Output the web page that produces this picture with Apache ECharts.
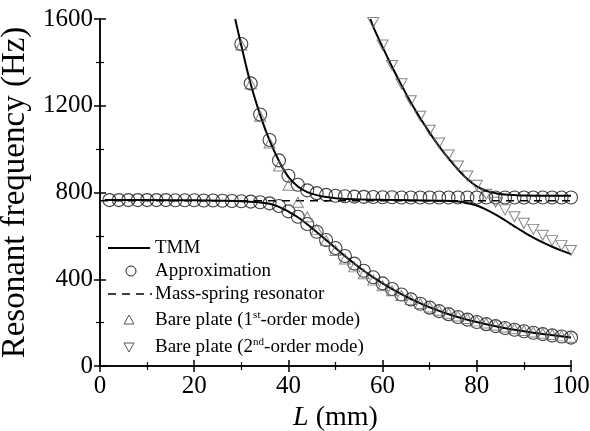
<!DOCTYPE html>
<html><head><meta charset="utf-8">
<script src="https://cdn.jsdelivr.net/npm/echarts@6/dist/echarts.min.js"></script>
<style>html,body{margin:0;padding:0;background:#fff}#c{width:590px;height:431px}</style>
</head><body><div id="c"></div>
<script>
// ---- data (L in mm, frequency in Hz) ----
const lowerApproxL = [2,4,6,8,10,12,14,16,18,20,22,24,26,28,30,32,34,36,38,40,42,44,46,48,50,52,54,56,58,60,62,64,66,68,70,72,74,76,78,80,82,84,86,88,90,92,94,96,98,100];
const lowerApproxF = [765,765,765,765,765,765,765,764,764,764,763,763,762,761,760,758,755,750,738,713,688,655,619,581,544,507,472,439,409,381,355,330,307,287,269,253,239,226,214,203,193,184,175,167,160,153,147,141,136,131];
const upperApproxL = [30,32,34,36,38,40,42,44,46,48,50,52,54,56,58,60,62,64,66,68,70,72,74,76,78,80,82,84,86,88,90,92,94,96,98,100];
const upperApproxF = [1485,1303,1160,1042,948,877,836,810,797,789,785,783,781,780,779,778,778,777,777,777,777,777,777,777,777,777,777,777,777,777,777,777,777,777,777,777];
const plate1L = [30,32,34,36,38,40,42,44,46,48,50,52,54,56,58,60,62,64,66,68,70,72,74,76,78,80,82,84,86,88,90,92,94,96,98,100];
const plate1F = [1480,1301,1152,1028,922,833,755,688,630,578,533,493,457,425,396,370,347,325,306,288,272,257,243,231,219,208,198,189,180,172,164,157,151,145,139,133];
const plate2L = [58,60,62,64,66,68,70,72,74,76,78,80,82,84,86,88,90,92,94,96,98,100];
const plate2F = [1584,1480,1386,1301,1223,1152,1087,1028,973,922,876,833,792,755,720,688,658,630,603,578,555,533];
const tmmAL = [1,10,20,26,30,33,36,38,40,42,44,46,48,50,52,54,56,58,60,63,66,70,75,80,85,90,95,100];
const tmmAF = [765,765,764,762,760,756,748,734,712,686,654,618,581,544,507,472,439,409,381,343,309,270,232,203,179,160,145,131];
const tmmBL = [28.7,30,32,34,36,38,40,42,44,46,48,50,54,60,66,72,76,78,80,82,84,86,88,90,92,94,96,98,100];
const tmmBF = [1600,1478,1300,1158,1040,945,872,828,802,788,779,774,769,766,764,762,759,752,740,721,698,672,644,617,592,570,550,532,516];
const tmmCL = [57.4,58,60,62,64,66,68,70,72,74,76,78,80,82,84,86,88,90,95,100];
const tmmCF = [1600,1565,1470,1380,1295,1215,1142,1075,1013,957,906,862,828,808,797,791,788,786,785,785];
const resonatorL = [0,100];
const resonatorF = [762,762];
const xTickLabels = [0,20,40,60,80,100];
const yTickLabels = [0,400,800,1200,1600];

const zip = (a,b) => a.map((v,i)=>[v,b[i]]);
const SERIF = '"Liberation Serif", "DejaVu Serif", serif';
const chart = echarts.init(document.getElementById('c'), null, {renderer:'canvas'});

const baseAxisLine = {show:true, lineStyle:{color:'#000', width:1.5}};
function xAx(pos, labels){
  return {type:'value', position:pos, min:xTickLabels[0], max:xTickLabels[xTickLabels.length-1],
    interval:xTickLabels[1]-xTickLabels[0], axisLine:baseAxisLine,
    axisTick:{show:true, inside:true, length:6, lineStyle:{color:'#000', width:1.5}},
    minorTick:{show:true, splitNumber:2, length:4, lineStyle:{color:'#000', width:1.2}},
    splitLine:{show:false},
    axisLabel:{show:labels, color:'#000', fontFamily:SERIF, fontSize:25, margin:8, formatter:v=>String(v)},
    name: labels ? '{i|L}{n| (mm)}' : '', nameLocation:'middle', nameGap:38,
    nameTextStyle:{rich:{i:{fontStyle:'italic', fontSize:28, fontFamily:SERIF, color:'#000'}, n:{fontSize:28, fontFamily:SERIF, color:'#000'}}}
  };
}
function yAx(pos, labels){
  return {type:'value', position:pos, min:yTickLabels[0], max:yTickLabels[yTickLabels.length-1],
    interval:yTickLabels[1]-yTickLabels[0], axisLine:baseAxisLine,
    axisTick:{show:true, inside:true, length:6, lineStyle:{color:'#000', width:1.5}},
    minorTick:{show:true, splitNumber:2, length:4, lineStyle:{color:'#000', width:1.2}},
    splitLine:{show:false},
    axisLabel:{show:labels, color:'#000', fontFamily:SERIF, fontSize:25, margin:7, formatter:v=>String(v)},
    name: labels ? 'Resonant frequency (Hz)' : '', nameLocation:'middle', nameGap:64,
    nameTextStyle:{color:'#000', fontFamily:SERIF, fontSize:33}
  };
}

const tmmStyle = {type:'line', smooth:0.4, symbol:'none', lineStyle:{color:'#000', width:2}, z:3, silent:true};
const FONT = 19;
const legendText = (y, txt) => ({type:'text', x:155, y:y, style:{text:txt, fill:'#000', font:FONT+'px '+SERIF, verticalAlign:'middle',
  rich:{n:{fontSize:FONT, fontFamily:SERIF, fill:'#000'}, s:{fontSize:11, fontFamily:SERIF, fill:'#000', padding:[0,0,9,0]}}}});

chart.setOption({
  animation:false,
  backgroundColor:'#fff',
  grid:{left:100, right:19, top:19, bottom:65, containLabel:false, outerBoundsMode:'none'},
  xAxis:[xAx('bottom', true), xAx('top', false)],
  yAxis:[yAx('left', true), yAx('right', false)],
  series:[
    Object.assign({name:'TMM', data:zip(tmmAL,tmmAF)}, tmmStyle),
    Object.assign({name:'TMM', data:zip(tmmBL,tmmBF)}, tmmStyle),
    Object.assign({name:'TMM', data:zip(tmmCL,tmmCF)}, tmmStyle),
    {name:'Mass-spring resonator', type:'line', symbol:'none', data:zip(resonatorL,resonatorF), z:2,
      lineStyle:{color:'#000', width:1.6, type:[8,6]}},
    {name:'Approximation', type:'scatter', symbol:'circle', symbolSize:13, data:zip(lowerApproxL,lowerApproxF), z:4,
      itemStyle:{color:'rgba(0,0,0,0)', borderColor:'#111', borderWidth:1.1}},
    {name:'Approximation', type:'scatter', symbol:'circle', symbolSize:13, data:zip(upperApproxL,upperApproxF), z:4,
      itemStyle:{color:'rgba(0,0,0,0)', borderColor:'#111', borderWidth:1.1}},
    {name:'Bare plate (1st-order mode)', type:'scatter', symbol:'triangle', symbolSize:[11,10], data:zip(plate1L,plate1F), z:4,
      itemStyle:{color:'rgba(0,0,0,0)', borderColor:'#666', borderWidth:1}},
    {name:'Bare plate (2nd-order mode)', type:'scatter', symbol:'triangle', symbolRotate:180, symbolSize:[11,10], data:zip(plate2L,plate2F), z:4,
      itemStyle:{color:'rgba(0,0,0,0)', borderColor:'#666', borderWidth:1}}
  ],
  graphic:[
    {type:'line', shape:{x1:108,y1:248,x2:150,y2:248}, style:{stroke:'#000', lineWidth:2}},
    legendText(248, 'TMM'),
    {type:'circle', shape:{cx:131, cy:271, r:5}, style:{stroke:'#222', fill:'none', lineWidth:1}},
    legendText(271, 'Approximation'),
    {type:'line', shape:{x1:108,y1:294,x2:152,y2:294}, style:{stroke:'#000', lineWidth:1.6, lineDash:[8,6]}},
    legendText(294, 'Mass-spring resonator'),
    {type:'polygon', shape:{points:[[124,324],[134,324],[129,315]]}, style:{stroke:'#555', fill:'none', lineWidth:1}},
    legendText(320, '{n|Bare plate (1}{s|st}{n|-order mode)}'),
    {type:'polygon', shape:{points:[[124,343],[134,343],[129,352]]}, style:{stroke:'#555', fill:'none', lineWidth:1}},
    legendText(347, '{n|Bare plate (2}{s|nd}{n|-order mode)}')
  ]
});
</script></body></html>
